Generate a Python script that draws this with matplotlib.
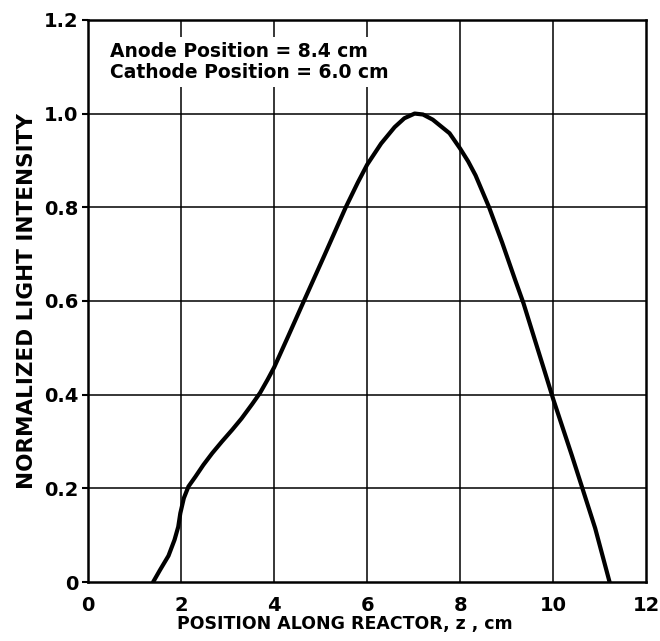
import matplotlib
matplotlib.use('Agg')
import matplotlib.pyplot as plt

# normalized light intensity
z_cm = [1.40, 1.55, 1.73, 1.86, 1.94, 1.985, 2.06, 2.16, 2.31, 2.48, 2.67,
        2.88, 3.1, 3.3, 3.53, 3.7, 3.86, 4.0, 4.3, 4.65, 5.08, 5.54, 5.8,
        6.0, 6.3, 6.59, 6.8, 7.02, 7.2, 7.41, 7.77, 8.0, 8.17, 8.33, 8.62,
        8.9, 9.18, 9.36, 9.61, 9.82, 10.0, 10.2, 10.4, 10.61, 10.9, 11.21]
intensity = [0.0, 0.026, 0.056, 0.09, 0.118, 0.147, 0.179, 0.204, 0.225,
             0.25, 0.275, 0.30, 0.325, 0.349, 0.38, 0.404, 0.432, 0.458,
             0.524, 0.602, 0.697, 0.80, 0.853, 0.891, 0.936, 0.971, 0.99,
             1.0, 0.998, 0.987, 0.958, 0.925, 0.898, 0.868, 0.80, 0.725,
             0.645, 0.595, 0.515, 0.448, 0.39, 0.33, 0.27, 0.205, 0.115, 0.0]

x_ticks = [0, 2, 4, 6, 8, 10, 12]
y_ticks = [0, 0.2, 0.4, 0.6, 0.8, 1.0, 1.2]
y_ticklabels = ['0', '0.2', '0.4', '0.6', '0.8', '1.0', '1.2']
note = 'Anode Position = 8.4 cm\nCathode Position = 6.0 cm'

plt.rcParams['font.family'] = ['DejaVu Sans']
plt.rcParams['font.weight'] = 'bold'

fig = plt.figure(figsize=(6.6, 6.41), dpi=100)
ax = fig.add_axes([0.1333, 0.092, 0.846, 0.877])

ax.set_xlim(0, 12)
ax.set_ylim(0, 1.2)

# grid drawn by hand
for x in x_ticks[1:-1]:
    ax.axvline(x, color='black', lw=1.1, zorder=1)
for y in y_ticks[1:-1]:
    ax.axhline(y, color='black', lw=1.1, zorder=1)

ax.plot(z_cm, intensity, color='black', lw=3.0, solid_capstyle='round',
        solid_joinstyle='round', zorder=3)

ax.text(0.47, 1.11, note, fontsize=13.5, fontweight='bold', va='center',
        ha='left', linespacing=1.1, zorder=4,
        bbox=dict(facecolor='white', edgecolor='none', pad=4))

ax.set_xticks(x_ticks)
ax.set_xticklabels([str(v) for v in x_ticks])
ax.set_yticks(y_ticks)
ax.set_yticklabels(y_ticklabels)
ax.tick_params(axis='both', labelsize=14, width=1.5)
ax.tick_params(axis='x', length=0, pad=10)
ax.tick_params(axis='y', direction='out', length=4, pad=3)

for s in ax.spines.values():
    s.set_linewidth(1.8)

ax.set_xlabel('POSITION ALONG REACTOR, z , cm', fontsize=12.5,
              fontweight='bold')
ax.xaxis.set_label_coords(0.46, -0.058)
ax.set_ylabel('NORMALIZED LIGHT INTENSITY', fontsize=15.5,
              fontweight='bold', labelpad=5)

fig.savefig('out.png', dpi=100)
